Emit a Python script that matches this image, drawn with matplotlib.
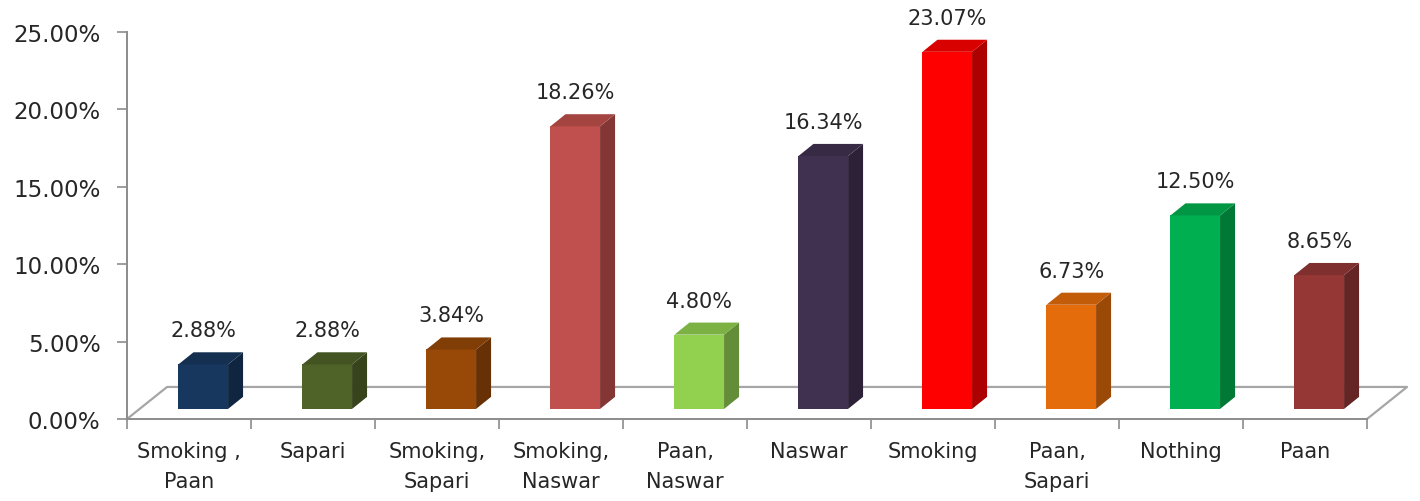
import numpy as np
import matplotlib
matplotlib.use("Agg")
from matplotlib import pyplot as plt
from matplotlib.patches import Polygon
from matplotlib.ticker import PercentFormatter, FixedLocator
from matplotlib.colors import to_rgb

# Chart data
categories = ["Smoking ,\nPaan", "Sapari", "Smoking,\nSapari", "Smoking,\nNaswar",
              "Paan,\nNaswar", "Naswar", "Smoking", "Paan,\nSapari", "Nothing", "Paan"]
values = [2.88, 2.88, 3.84, 18.26, 4.80, 16.34, 23.07, 6.73, 12.50, 8.65]
colors = ["#17375E", "#4F6228", "#984807", "#C0504D", "#92D050",
          "#403151", "#FF0000", "#E46C0A", "#00B050", "#953735"]

# fake 3d geometry (data units)
floor_dx, floor_dy = 0.323, 2.07     # depth of the floor
bar_x0, bar_w = 0.415, 0.40          # front face inside each category
bar_base = 0.65                      # front face sits a bit behind the front edge
bar_dx, bar_dy = 0.121, 0.78         # depth of each bar

def shade(c, f):
    r, g, b = to_rgb(c)
    return (r * f, g * f, b * f)

fig = plt.figure(figsize=(14.2, 5.02), dpi=100)
ax = fig.add_axes([127 / 1420, 82 / 502, 1240 / 1420, 387 / 502])
ax.set_xlim(0, len(categories))
ax.set_ylim(0, 25)

grey = "#8C8C8C"
n = len(categories)

# floor outline (front edge is the bottom spine)
ax.plot([0, floor_dx, n + floor_dx, n], [0, floor_dy, floor_dy, 0],
        color="#A6A6A6", lw=1.6, clip_on=False, zorder=1)

# bar front faces
xs = np.arange(n) + bar_x0
ax.bar(xs, values, width=bar_w, bottom=bar_base, align="edge",
       color=colors, edgecolor="none", zorder=3)

# side and top faces + labels
for x, v, c in zip(xs, values, colors):
    top = bar_base + v
    side = Polygon([(x + bar_w, bar_base), (x + bar_w + bar_dx, bar_base + bar_dy),
                    (x + bar_w + bar_dx, top + bar_dy), (x + bar_w, top)],
                   closed=True, facecolor=shade(c, 0.68), edgecolor="none",
                   zorder=3, clip_on=False)
    lid = Polygon([(x, top), (x + bar_w, top), (x + bar_w + bar_dx, top + bar_dy),
                   (x + bar_dx, top + bar_dy)],
                  closed=True, facecolor=shade(c, 0.85), edgecolor="none",
                  zorder=3, clip_on=False)
    ax.add_patch(side)
    ax.add_patch(lid)
    ax.annotate(f"{v:.2f}%", (x + bar_w / 2, top + bar_dy), xytext=(0, 12),
                textcoords="offset pixels", ha="center", va="bottom",
                fontsize=15, color="#262626", annotation_clip=False)

# axes styling
for s in ["top", "right"]:
    ax.spines[s].set_visible(False)
for s in ["left", "bottom"]:
    ax.spines[s].set_color(grey)
    ax.spines[s].set_linewidth(1.4)

ax.set_yticks(np.arange(0, 26, 5))
ax.yaxis.set_major_formatter(PercentFormatter(decimals=2))
ax.tick_params(axis="y", length=7, width=1.2, color=grey, pad=12,
               labelsize=16.5, labelcolor="#262626")

ax.xaxis.set_major_locator(FixedLocator(np.arange(n + 1)))
ax.xaxis.set_minor_locator(FixedLocator(np.arange(n) + 0.5))
ax.set_xticklabels([], minor=False)
ax.set_xticklabels(categories, minor=True, linespacing=1.6)
ax.tick_params(axis="x", which="major", length=7, width=1.2, color=grey)
ax.tick_params(axis="x", which="minor", length=0, pad=16,
               labelsize=15, labelcolor="#262626")

fig.savefig("out.png", dpi=100)
